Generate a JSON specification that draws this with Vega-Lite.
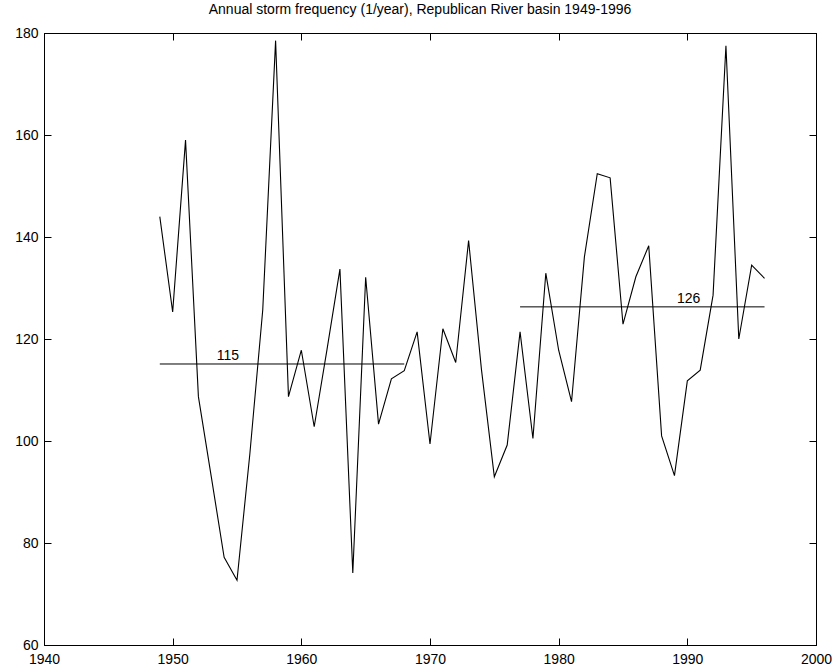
{
  "$schema": "https://vega.github.io/schema/vega-lite/v6.json",
  "width": 772,
  "height": 612,
  "autosize": "none",
  "padding": {"left": 44, "top": 33, "right": 21, "bottom": 23},
  "background": "white",
  "title": {
    "text": "Annual storm frequency (1/year), Republican River basin 1949-1996",
    "font": "Liberation Sans",
    "fontSize": 14,
    "fontWeight": "normal",
    "color": "black",
    "anchor": "middle",
    "offset": 9,
    "dx": -10
  },
  "config": {
    "view": {"stroke": "black", "strokeWidth": 1},
    "axis": {
      "grid": false,
      "domainColor": "black",
      "domainWidth": 1,
      "tickColor": "black",
      "tickWidth": 1,
      "tickSize": -7,
      "labelFont": "Liberation Sans",
      "labelFontSize": 14,
      "labelColor": "black",
      "labelFlush": false,
      "title": null
    }
  },
  "datasets": {
    "storms": [
      {"year": 1949, "freq": 144.0},
      {"year": 1950, "freq": 125.3},
      {"year": 1951, "freq": 159.0},
      {"year": 1952, "freq": 108.7},
      {"year": 1953, "freq": 93.0},
      {"year": 1954, "freq": 77.2},
      {"year": 1955, "freq": 72.7},
      {"year": 1956, "freq": 97.5},
      {"year": 1957, "freq": 125.7},
      {"year": 1958, "freq": 178.5},
      {"year": 1959, "freq": 108.7},
      {"year": 1960, "freq": 117.8},
      {"year": 1961, "freq": 102.8},
      {"year": 1962, "freq": 118.0},
      {"year": 1963, "freq": 133.7},
      {"year": 1964, "freq": 74.1},
      {"year": 1965, "freq": 132.1},
      {"year": 1966, "freq": 103.3},
      {"year": 1967, "freq": 112.2},
      {"year": 1968, "freq": 113.8},
      {"year": 1969, "freq": 121.4},
      {"year": 1970, "freq": 99.4},
      {"year": 1971, "freq": 122.0},
      {"year": 1972, "freq": 115.4},
      {"year": 1973, "freq": 139.3},
      {"year": 1974, "freq": 114.0},
      {"year": 1975, "freq": 93.0},
      {"year": 1976, "freq": 99.2},
      {"year": 1977, "freq": 121.4},
      {"year": 1978, "freq": 100.5},
      {"year": 1979, "freq": 132.9},
      {"year": 1980, "freq": 117.8},
      {"year": 1981, "freq": 107.7},
      {"year": 1982, "freq": 136.1},
      {"year": 1983, "freq": 152.4},
      {"year": 1984, "freq": 151.6},
      {"year": 1985, "freq": 122.9},
      {"year": 1986, "freq": 132.2},
      {"year": 1987, "freq": 138.3},
      {"year": 1988, "freq": 101.0},
      {"year": 1989, "freq": 93.2},
      {"year": 1990, "freq": 111.8},
      {"year": 1991, "freq": 113.9},
      {"year": 1992, "freq": 128.6},
      {"year": 1993, "freq": 177.5},
      {"year": 1994, "freq": 120.0},
      {"year": 1995, "freq": 134.5},
      {"year": 1996, "freq": 131.9}
    ],
    "means": [
      {"start": 1949, "end": 1968, "mean": 115.1, "label": "115", "labelYear": 1954.3},
      {"start": 1977, "end": 1996, "mean": 126.3, "label": "126", "labelYear": 1990.1}
    ]
  },
  "layer": [
    {
      "data": {"name": "storms"},
      "mark": {"type": "line", "color": "black", "strokeWidth": 1.1},
      "encoding": {
        "x": {
          "field": "year", "type": "quantitative",
          "scale": {"domain": [1940, 2000], "nice": false, "zero": false},
          "axis": {"orient": "bottom", "values": [1940, 1950, 1960, 1970, 1980, 1990, 2000], "format": "d", "labelPadding": 14}
        },
        "y": {
          "field": "freq", "type": "quantitative",
          "scale": {"domain": [60, 180], "nice": false, "zero": false},
          "axis": {"orient": "left", "values": [60, 80, 100, 120, 140, 160, 180], "labelPadding": 13}
        }
      }
    },
    {
      "data": {"name": "means"},
      "mark": {"type": "rule", "color": "black", "strokeWidth": 1},
      "encoding": {
        "x": {
          "field": "start", "type": "quantitative",
          "axis": {"orient": "top", "values": [1940, 1950, 1960, 1970, 1980, 1990, 2000], "labels": false}
        },
        "x2": {"field": "end"},
        "y": {
          "field": "mean", "type": "quantitative",
          "axis": {"orient": "right", "values": [60, 80, 100, 120, 140, 160, 180], "labels": false}
        }
      }
    },
    {
      "data": {"name": "means"},
      "mark": {"type": "text", "font": "Liberation Sans", "fontSize": 14, "color": "black", "baseline": "alphabetic", "align": "center", "dy": -4},
      "encoding": {
        "x": {"field": "labelYear", "type": "quantitative", "axis": null},
        "y": {"field": "mean", "type": "quantitative", "axis": null},
        "text": {"field": "label"}
      }
    }
  ],
  "resolve": {"axis": {"x": "independent", "y": "independent"}}
}
